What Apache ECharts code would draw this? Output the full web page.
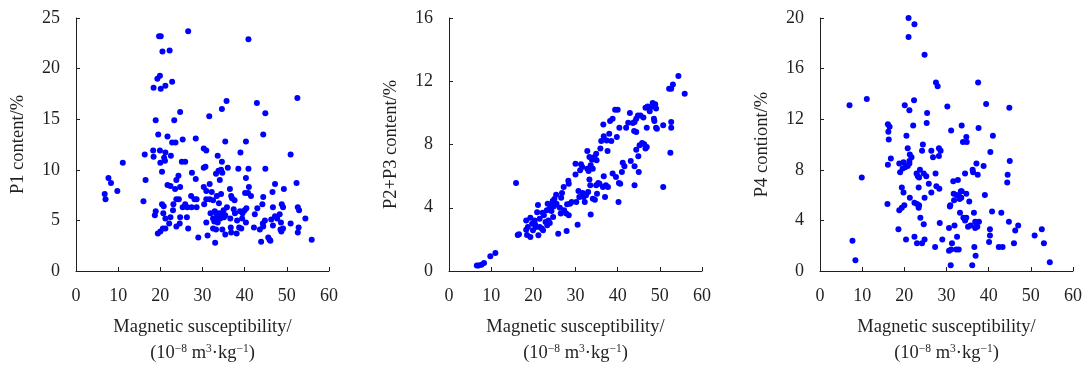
<!DOCTYPE html>
<html>
<head>
<meta charset="utf-8">
<script src="https://cdn.jsdelivr.net/npm/echarts@6/dist/echarts.min.js"></script>
<style>html,body{margin:0;padding:0;background:#fff;}#c{width:1088px;height:365px;}</style>
</head>
<body>
<div id="c"></div>
<script>
// ---- data (magnetic susceptibility, content %) ----
const xTicks = [0, 10, 20, 30, 40, 50, 60];
const yNames = ['P1 content/%', 'P2+P3 content/%', 'P4 contiont/%'];
const yMax = [25, 16, 20];
const yInterval = [5, 4, 4];

const p1Points = [
[26.6,23.7],[19.7,23.2],[20.1,23.2],[40.9,22.9],[20.5,21.7],[22.2,21.8],[19.9,19.3],[19.3,19.0],[22.8,18.7],[21.2,18.3],[18.4,18.1],[20.1,18.0],[52.5,17.1],[35.7,16.8],[42.9,16.6],[34.6,16.0],[24.7,15.7],[44.9,15.6],[31.6,15.3],[18.9,14.9],[23.3,14.9],[44.4,13.5],[19.5,13.5],[21.7,13.3],[25.3,13.0],[28.4,13.1],[35.4,12.8],[40.3,12.8],[22.8,12.7],[23.6,12.7],[30.3,12.1],[30.9,11.9],[18.3,11.9],[18.4,11.3],[19.9,11.9],[21.2,11.7],[16.3,11.5],[22.5,11.4],[33.6,11.4],[50.9,11.5],[39.0,11.7],[20.9,11.2],[11.1,10.7],[20.0,10.7],[21.1,10.9],[25.1,10.8],[25.9,10.8],[34.6,10.8],[36.0,10.2],[38.5,10.1],[40.9,10.1],[44.9,10.1],[30.3,10.2],[30.7,10.3],[33.8,9.9],[34.4,10.0],[34.7,9.7],[33.2,9.6],[20.4,9.8],[7.7,9.2],[27.5,9.7],[40.3,9.2],[16.5,9.0],[23.8,9.0],[24.3,9.4],[28.4,9.1],[34.1,9.0],[8.3,8.7],[52.3,8.7],[21.7,8.5],[22.4,8.4],[24.7,8.3],[30.3,8.3],[31.7,8.6],[41.0,8.3],[47.2,8.6],[49.3,8.1],[9.8,7.9],[23.5,8.1],[30.9,7.9],[32.2,7.8],[36.5,8.1],[40.1,7.7],[40.8,7.7],[34.4,7.6],[46.6,7.8],[6.8,7.6],[7.0,7.1],[27.3,7.4],[33.4,7.4],[36.8,7.4],[37.0,7.2],[41.5,7.4],[44.4,7.3],[23.8,7.1],[24.4,7.1],[28.1,7.1],[28.6,7.1],[30.9,7.1],[31.7,7.1],[32.5,7.0],[37.6,7.0],[16.0,6.9],[33.9,6.7],[30.4,6.6],[20.4,6.6],[20.8,6.4],[23.1,6.6],[25.3,6.3],[25.9,6.6],[26.4,6.3],[27.4,6.3],[28.6,6.3],[35.8,6.3],[35.0,6.0],[37.4,6.1],[40.4,6.2],[40.0,6.0],[46.7,6.3],[49.1,6.3],[48.8,6.6],[52.6,6.3],[52.9,6.0],[44.2,6.6],[43.0,6.2],[23.0,6.0],[18.9,5.9],[20.7,5.7],[31.9,5.7],[32.9,5.9],[33.2,5.7],[33.9,5.7],[34.7,5.7],[37.7,5.7],[38.9,5.9],[39.5,5.7],[42.4,5.6],[48.3,5.6],[18.7,5.5],[21.2,5.2],[22.4,5.3],[24.7,5.3],[26.3,5.3],[32.5,5.2],[33.3,5.2],[34.2,5.2],[35.1,5.3],[36.6,5.2],[38.2,5.0],[39.4,5.2],[44.8,5.0],[46.3,5.1],[47.2,5.4],[47.7,5.2],[54.4,5.2],[48.6,4.8],[50.9,4.7],[44.3,4.7],[30.9,4.8],[32.8,4.9],[33.6,4.8],[40.3,4.8],[22.1,4.7],[24.6,4.7],[23.8,4.4],[46.7,4.5],[44.4,4.4],[52.8,4.3],[20.6,4.2],[21.2,4.2],[26.6,4.2],[33.2,4.1],[32.5,4.2],[34.7,4.1],[36.7,4.3],[38.7,4.3],[39.2,4.2],[42.2,4.3],[43.6,4.1],[49.1,4.2],[48.5,4.1],[20.0,3.9],[19.4,3.7],[36.8,3.8],[48.7,3.9],[52.6,3.8],[35.4,3.6],[38.1,3.7],[29.0,3.3],[31.2,3.5],[45.6,3.3],[45.9,3.1],[46.1,3.0],[55.9,3.1],[43.9,2.9],[33.0,2.8],[35.4,5.5]
];

const p23Points = [
[6.6,0.34],[7.0,0.34],[7.7,0.40],[8.3,0.51],[9.8,0.93],[11.0,1.14],[15.9,5.57],[16.3,2.28],[16.6,2.32],[18.3,3.20],[18.3,2.61],[18.7,2.78],[18.5,2.28],[19.3,2.15],[19.3,3.37],[19.7,2.99],[19.9,2.57],[20.3,3.20],[20.4,2.95],[20.6,2.78],[21.1,4.17],[20.9,3.71],[21.2,2.26],[21.5,3.31],[21.5,2.78],[22.0,2.68],[22.2,3.69],[22.5,3.52],[22.3,2.57],[22.9,3.10],[23.2,3.84],[23.3,2.89],[23.4,4.26],[23.6,3.20],[23.9,3.94],[23.9,3.04],[24.2,4.19],[24.3,3.79],[24.6,4.43],[24.9,4.09],[24.7,3.41],[25.0,4.55],[25.4,4.83],[25.5,4.26],[25.9,2.36],[26.3,4.00],[26.6,4.64],[26.8,4.93],[26.5,3.63],[27.2,5.31],[27.3,3.84],[27.8,3.63],[27.9,2.53],[28.0,4.22],[28.3,5.71],[28.4,5.52],[28.4,3.52],[28.7,4.26],[29.1,4.36],[30.0,6.79],[30.0,6.11],[30.2,4.36],[30.5,2.93],[30.7,5.06],[30.9,4.68],[31.1,6.37],[31.3,6.75],[31.6,6.58],[31.7,4.93],[31.9,4.68],[32.2,4.36],[32.5,4.79],[32.8,7.59],[32.8,6.47],[33.1,6.32],[33.0,5.00],[33.3,5.78],[33.3,7.21],[33.5,5.42],[33.6,3.58],[33.6,6.68],[33.9,7.04],[34.1,6.47],[34.1,4.57],[34.5,7.21],[34.6,4.51],[34.9,7.42],[35.0,7.00],[34.9,5.42],[35.4,5.57],[35.1,4.89],[35.7,5.52],[35.9,7.74],[36.1,8.22],[36.6,9.27],[36.7,8.52],[36.7,5.99],[36.5,5.31],[37.0,4.68],[37.2,5.42],[37.4,8.26],[37.6,7.59],[37.7,5.31],[38.0,8.68],[38.2,9.49],[38.5,8.22],[38.8,9.63],[38.8,6.16],[39.4,10.2],[39.6,5.94],[39.8,8.47],[40.0,10.2],[40.2,4.36],[40.3,5.57],[40.4,9.06],[40.6,5.52],[41.0,6.26],[41.2,6.85],[41.6,6.62],[42.0,9.06],[42.5,9.38],[42.9,9.99],[43.1,6.96],[43.6,9.36],[43.9,8.85],[44.0,9.42],[44.0,5.42],[44.0,6.62],[44.4,7.67],[44.4,8.79],[44.4,9.63],[44.8,9.84],[44.9,7.25],[45.0,6.26],[45.2,7.95],[45.4,9.84],[45.8,8.09],[46.1,9.70],[46.3,8.01],[46.6,7.74],[46.9,7.84],[46.6,10.33],[46.9,9.06],[47.1,10.41],[47.6,10.1],[47.9,10.37],[48.3,10.62],[48.6,9.63],[48.7,9.49],[48.9,10.54],[49.1,10.27],[49.1,9.06],[49.3,9.00],[50.8,9.21],[50.8,5.31],[52.2,11.53],[52.7,11.53],[52.5,7.48],[52.7,9.42],[52.7,9.06],[53.1,11.8],[54.4,12.33],[55.9,11.21]
];

const p4Points = [
[21.0,20.0],[22.4,19.5],[21.0,18.5],[24.8,17.1],[27.5,14.9],[27.9,14.6],[37.5,14.9],[11.1,13.6],[7.0,13.1],[20.1,13.1],[22.3,13.5],[21.2,12.7],[30.2,13.0],[39.4,13.2],[44.9,12.9],[25.4,12.5],[25.3,11.7],[16.1,11.6],[16.5,11.4],[22.1,11.5],[31.1,11.1],[33.6,11.5],[37.6,11.3],[16.2,11.0],[16.3,10.4],[20.5,10.7],[34.7,10.6],[41.0,10.7],[33.9,10.2],[34.8,10.2],[24.4,10.0],[20.8,9.7],[28.2,9.7],[24.2,9.5],[26.4,9.5],[28.6,9.5],[40.4,9.4],[21.3,9.2],[21.7,9.0],[28.2,9.1],[26.8,9.0],[16.8,8.9],[21.2,8.7],[19.8,8.6],[45.0,8.7],[37.1,8.5],[16.1,8.4],[18.8,8.5],[20.8,8.3],[20.2,8.2],[19.6,8.1],[21.2,8.5],[38.8,8.3],[23.7,8.0],[36.2,8.0],[36.3,7.8],[19.0,7.8],[22.9,7.7],[24.6,7.7],[27.4,7.7],[34.4,7.7],[37.4,7.6],[44.5,7.6],[23.2,7.5],[25.2,7.5],[9.9,7.4],[23.5,7.4],[32.7,7.2],[31.6,7.1],[44.4,7.0],[25.8,6.9],[27.6,6.7],[23.4,6.6],[19.4,6.6],[28.3,6.5],[19.8,6.2],[26.4,6.2],[33.4,6.3],[31.7,6.1],[32.4,6.0],[34.7,6.1],[33.6,6.3],[33.0,5.9],[33.5,5.8],[39.1,6.0],[21.3,5.8],[24.8,5.8],[33.1,5.7],[31.8,5.6],[35.4,5.5],[16.0,5.3],[22.4,5.4],[23.0,5.3],[23.5,5.2],[20.0,5.2],[19.4,5.0],[18.8,4.8],[23.4,5.0],[30.8,5.1],[30.9,5.2],[33.2,4.6],[36.5,4.6],[40.8,4.7],[43.0,4.6],[23.8,4.2],[34.0,4.2],[34.7,4.2],[34.4,4.0],[36.8,3.9],[37.7,3.9],[44.8,3.9],[24.6,3.7],[28.4,3.8],[47.0,3.6],[31.9,3.6],[35.7,3.6],[35.1,3.5],[37.1,3.6],[37.3,3.5],[30.6,3.4],[36.8,3.4],[18.6,3.3],[52.6,3.3],[40.3,3.3],[46.3,3.2],[50.9,2.8],[40.3,2.8],[22.4,2.7],[32.5,2.7],[20.4,2.5],[24.8,2.5],[29.0,2.5],[7.7,2.4],[40.1,2.3],[23.0,2.2],[24.2,2.2],[31.3,2.2],[46.0,2.2],[53.1,2.2],[27.3,1.9],[36.6,1.9],[42.4,1.9],[43.3,1.9],[32.3,1.7],[32.9,1.7],[31.1,1.7],[30.6,1.6],[36.9,1.2],[8.4,0.85],[54.5,0.7],[31.0,0.45],[36.1,0.45]
];

const panels = [p1Points, p23Points, p4Points];

// ---- styling / layout ----
const FONT = '"Liberation Serif", "Times New Roman", serif';
const INK = '#231f20';
const gridLefts = [76, 449, 820];
const chart = echarts.init(document.getElementById('c'), null, {renderer: 'canvas'});

const xName = '{t|Magnetic susceptibility/}\n{t|(10}{s|\u22128}{t| m}{s|3}{t|\u00b7kg}{s|\u22121}{t|)}';
const richName = {
  t: {fontFamily: FONT, fontSize: 18.5, color: INK, lineHeight: 26},
  s: {fontFamily: FONT, fontSize: 11.5, color: INK, lineHeight: 11, verticalAlign: 'top', padding: [3, 0, 0, 0]}
};

const option = {
  animation: false,
  backgroundColor: '#fff',
  grid: gridLefts.map(l => ({left: l, top: 18, width: 253, height: 253, outerBoundsMode: 'none', containLabel: false})),
  xAxis: panels.map((_, i) => ({
    gridIndex: i, type: 'value', min: xTicks[0], max: xTicks[xTicks.length - 1], interval: 10,
    axisLine: {lineStyle: {color: INK, width: 1}},
    axisTick: {inside: true, length: 4, lineStyle: {color: INK}},
    splitLine: {show: false},
    axisLabel: {fontFamily: FONT, fontSize: 18, color: INK, margin: 16},
    name: xName, nameLocation: 'middle', nameGap: 43,
    nameTextStyle: {rich: richName, align: 'center'}
  })),
  yAxis: panels.map((_, i) => ({
    gridIndex: i, type: 'value', min: 0, max: yMax[i], interval: yInterval[i],
    axisLine: {show: true, lineStyle: {color: INK, width: 1}},
    axisTick: {show: true, inside: true, length: 4, lineStyle: {color: INK}},
    splitLine: {show: false},
    axisLabel: {fontFamily: FONT, fontSize: 18, color: INK, margin: 16},
    name: yNames[i], nameLocation: 'middle', nameGap: 48,
    nameTextStyle: {fontFamily: FONT, fontSize: 18.5, color: INK}
  })),
  series: panels.map((pts, i) => ({
    type: 'scatter', xAxisIndex: i, yAxisIndex: i, data: pts,
    symbol: 'circle', symbolSize: 6,
    itemStyle: {color: '#0000ff', opacity: 1}
  }))
};
chart.setOption(option);
</script>
</body>
</html>
